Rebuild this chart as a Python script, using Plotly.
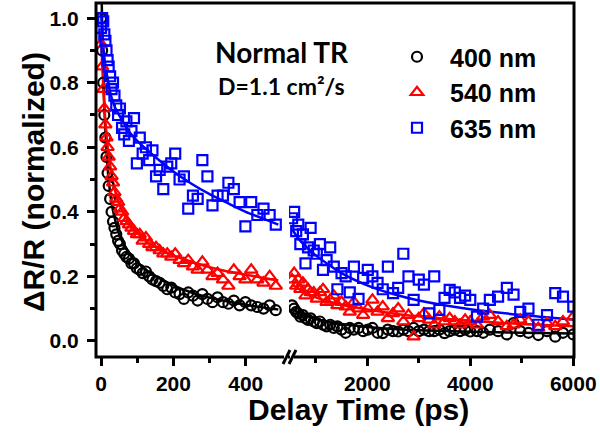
import plotly.graph_objects as go

# ---------------- data ----------------
t_left = [0, 3, 6, 9, 12, 15, 18, 21, 25, 29, 33, 37, 42, 47, 52, 58, 64, 70, 77, 84,
          91, 99, 107, 115, 124, 133, 142, 152, 162, 172, 183, 194, 205, 217, 229, 241,
          254, 267, 280, 294, 308, 322, 337, 352, 367, 383, 399, 415, 432, 449, 466, 483]

nm400_left = [1.00, 0.90, 0.80, 0.70, 0.63, 0.57, 0.52, 0.48, 0.44, 0.40, 0.37, 0.35, 0.33,
              0.31, 0.30, 0.28, 0.27, 0.26, 0.255, 0.24, 0.24, 0.225, 0.22, 0.21, 0.215,
              0.20, 0.19, 0.185, 0.18, 0.17, 0.16, 0.165, 0.15, 0.145, 0.13, 0.15, 0.14,
              0.125, 0.145, 0.13, 0.12, 0.135, 0.12, 0.115, 0.125, 0.11, 0.12, 0.11, 0.105,
              0.10, 0.11, 0.095]

nm540_left = [0.92, 0.85, 0.78, 0.72, 0.67, 0.63, 0.60, 0.57, 0.54, 0.51, 0.49, 0.46, 0.44,
              0.43, 0.41, 0.40, 0.38, 0.37, 0.36, 0.35, 0.34, 0.33, 0.33, 0.31, 0.32, 0.30,
              0.29, 0.29, 0.28, 0.27, 0.27, 0.26, 0.27, 0.25, 0.24, 0.25, 0.23, 0.22, 0.245,
              0.22, 0.20, 0.21, 0.19, 0.17, 0.22, 0.20, 0.19, 0.22, 0.19, 0.18, 0.20, 0.17]

nm635_left = [0.97, 1.00, 0.99, 0.95, 0.93, 0.90, 0.87, 0.85, 0.82, 0.78, 0.80, 0.76, 0.73,
              0.70, 0.72, 0.66, 0.64, 0.68, 0.62, 0.65, 0.69, 0.55, 0.63, 0.58, 0.60, 0.56,
              0.59, 0.51, 0.53, 0.47, 0.54, 0.55, 0.58, 0.50, 0.51, 0.41, 0.45, 0.44, 0.56,
              0.51, 0.42, 0.45, 0.45, 0.49, 0.47, 0.43, 0.355, 0.43, 0.39, 0.41, 0.39, 0.36]

t_right = [540, 580, 620, 660, 700, 750, 800, 850, 900, 960, 1020, 1080, 1140, 1210, 1280,
           1350, 1420, 1500, 1580, 1660, 1740, 1830, 1920, 2010, 2100, 2200, 2300, 2400,
           2500, 2600, 2700, 2800, 2900, 3000, 3100, 3200, 3300, 3400, 3500, 3600, 3700,
           3800, 3900, 4000, 4130, 4250, 4380, 4540, 4710, 4840, 4970, 5130, 5320, 5490,
           5650, 5800, 6000]

nm400_right = [0.11, 0.10, 0.09, 0.085, 0.075, 0.08, 0.07, 0.065, 0.07, 0.06, 0.055, 0.06,
               0.05, 0.045, 0.05, 0.04, 0.045, 0.035, 0.025, 0.04, 0.035, 0.04, 0.03, 0.035,
               0.04, 0.025, 0.024, 0.035, 0.03, 0.029, 0.035, 0.03, 0.04, 0.03, 0.035, 0.03,
               0.03, 0.035, 0.024, 0.03, 0.035, 0.03, 0.035, 0.029, 0.03, 0.025, 0.035, 0.03,
               0.02, 0.055, 0.03, 0.025, 0.018, 0.03, 0.013, 0.025, 0.02]

nm540_right = [0.19, 0.21, 0.17, 0.19, 0.16, 0.18, 0.14, 0.16, 0.15, 0.15, 0.13, 0.15, 0.16,
               0.12, 0.127, 0.14, 0.11, 0.12, 0.106, 0.09, 0.12, 0.10, 0.08, 0.10, 0.127,
               0.09, 0.106, 0.07, 0.085, 0.10, 0.06, 0.08, 0.013, 0.07, 0.085, 0.065, 0.05,
               0.075, 0.06, 0.07, 0.06, 0.05, 0.065, 0.06, 0.05, 0.075, 0.08, 0.06, 0.045,
               0.05, 0.065, 0.06, 0.04, 0.055, 0.045, 0.06, 0.075]

nm635_right = [0.38, 0.40, 0.34, 0.36, 0.30, 0.33, 0.24, 0.29, 0.35, 0.28, 0.27, 0.30, 0.22,
               0.25, 0.29, 0.23, 0.16, 0.21, 0.20, 0.15, 0.23, 0.13, 0.195, 0.22, 0.20,
               0.18, 0.16, 0.23, 0.148, 0.164, 0.27, 0.20, 0.127, 0.19, 0.174, 0.085, 0.20,
               0.096, 0.133, 0.158, 0.15, 0.133, 0.14, 0.127, 0.075, 0.10, 0.127, 0.137,
               0.164, 0.143, 0.09, 0.10, 0.05, 0.08, 0.148, 0.137, 0.106]

# fitted curves
fit400_left_t = [1, 2, 4, 6, 8, 10, 13, 16, 20, 25, 30, 40, 50, 60, 80, 100, 130, 160, 200,
                 250, 300, 350, 400, 450, 490]
fit400_left_y = [1.10, 1.04, 0.93, 0.84, 0.76, 0.70, 0.63, 0.57, 0.51, 0.46, 0.42, 0.37, 0.33,
                 0.305, 0.27, 0.245, 0.215, 0.195, 0.172, 0.150, 0.134, 0.122, 0.112, 0.103,
                 0.097]
fit540_left_t = [0, 3, 6, 10, 15, 20, 25, 30, 40, 50, 60, 80, 100, 130, 160, 200, 250, 300,
                 350, 400, 450, 490]
fit540_left_y = [0.96, 0.86, 0.79, 0.71, 0.64, 0.585, 0.545, 0.51, 0.46, 0.425, 0.40, 0.36,
                 0.335, 0.305, 0.285, 0.265, 0.245, 0.228, 0.215, 0.205, 0.195, 0.187]
fit635_left_t = [0, 5, 10, 20, 30, 40, 60, 80, 100, 150, 200, 250, 300, 350, 400, 450, 490]
fit635_left_y = [1.02, 0.93, 0.87, 0.80, 0.75, 0.72, 0.68, 0.645, 0.62, 0.57, 0.525, 0.487,
                 0.455, 0.427, 0.40, 0.378, 0.36]

fit_right_t = [540, 700, 1000, 1500, 2000, 2500, 3000, 4000, 5000, 6000]
fit400_right_y = [0.100, 0.085, 0.068, 0.052, 0.043, 0.037, 0.033, 0.028, 0.025, 0.023]
fit540_right_y = [0.175, 0.158, 0.135, 0.112, 0.097, 0.085, 0.076, 0.062, 0.052, 0.045]
fit635_right_y = [0.345, 0.31, 0.265, 0.21, 0.172, 0.145, 0.125, 0.098, 0.080, 0.066]

series_names = ["400 nm", "540 nm", "635 nm"]
colors = ["#000000", "#ff0000", "#0000ff"]
symbols = ["circle-open", "triangle-up-open", "square-open"]
sizes = [10, 11, 10]

left_vals = [nm400_left, nm540_left, nm635_left]
right_vals = [nm400_right, nm540_right, nm635_right]
fits_left = [(fit400_left_t, fit400_left_y), (fit540_left_t, fit540_left_y),
             (fit635_left_t, fit635_left_y)]
fits_right = [fit400_right_y, fit540_right_y, fit635_right_y]

# ---------------- geometry helpers ----------------
W, H = 600, 438
L, R, T, B = 96, 26, 3, 81
PW, PH = W - L - R, H - T - B


def px(x):
    return (x - L) / PW


def py(y):
    return (H - B - y) / PH


FONT = "Liberation Sans, Arial, sans-serif"

fig = go.Figure()

for i in range(3):
    fig.add_trace(go.Scatter(
        x=fits_left[i][0], y=fits_left[i][1], mode="lines", xaxis="x", yaxis="y",
        line=dict(color=colors[i], width=2.5, shape="spline", smoothing=0.6),
        showlegend=False, hoverinfo="skip"))
    fig.add_trace(go.Scatter(
        x=fit_right_t, y=fits_right[i], mode="lines", xaxis="x2", yaxis="y",
        line=dict(color=colors[i], width=2.5, shape="spline", smoothing=0.6),
        showlegend=False, hoverinfo="skip"))

for i in range(3):
    mk = dict(symbol=symbols[i], size=sizes[i], color=colors[i],
              line=dict(color=colors[i], width=2.2))
    fig.add_trace(go.Scatter(x=t_left, y=left_vals[i], mode="markers", xaxis="x", yaxis="y",
                             marker=mk, name=series_names[i], legendgroup=series_names[i]))
    fig.add_trace(go.Scatter(x=t_right, y=right_vals[i], mode="markers", xaxis="x2",
                             yaxis="y", marker=mk, name=series_names[i],
                             legendgroup=series_names[i], showlegend=False))

tickfont = dict(family=FONT, size=21, color="black", weight="bold")
axis_common = dict(showgrid=False, zeroline=False, showline=False, ticks="outside",
                   ticklen=8, tickwidth=3, tickcolor="black", tickfont=tickfont)

fig.update_layout(
    width=W, height=H,
    margin=dict(l=L, r=R, t=T, b=B),
    paper_bgcolor="white", plot_bgcolor="white",
    xaxis=dict(domain=[0, px(287)], range=[-14, 514], anchor="y",
               tickmode="array", tickvals=[0, 200, 400],
               minor=dict(tickmode="array", tickvals=[100, 300], ticks="outside",
                          ticklen=5, tickwidth=3, tickcolor="black"),
               **axis_common),
    xaxis2=dict(domain=[px(289), 1], range=[480, 6014], anchor="y",
                tickmode="array", tickvals=[2000, 4000, 6000],
                minor=dict(tickmode="array", tickvals=[1000, 3000, 5000], ticks="outside",
                           ticklen=5, tickwidth=3, tickcolor="black"),
                **axis_common),
    yaxis=dict(domain=[0, 1], range=[-0.05, 1.047], anchor="x",
               tickmode="array", tickvals=[0, 0.2, 0.4, 0.6, 0.8, 1.0], tickformat=".1f",
               ticklabelstandoff=4,
               minor=dict(tickmode="array", tickvals=[0.1, 0.3, 0.5, 0.7, 0.9],
                          ticks="outside", ticklen=5, tickwidth=3, tickcolor="black"),
               **axis_common),
    legend=dict(x=px(384), y=py(34), xanchor="left", yanchor="top", itemwidth=56,
                bgcolor="rgba(0,0,0,0)", borderwidth=0, tracegroupgap=0,
                font=dict(family=FONT, size=25, color="black", weight="bold")),
    showlegend=True,
)

# frame and axis break marks
fig.add_shape(type="rect", xref="paper", yref="paper", x0=0, x1=1, y0=0, y1=1,
              line=dict(color="black", width=3), layer="above")
for xs in (283, 289):
    fig.add_shape(type="rect", xref="paper", yref="paper", x0=px(xs + 1), x1=px(xs + 5),
                  y0=py(359), y1=py(355), fillcolor="white", line=dict(width=0),
                  layer="above")
for xs in (283, 289):
    fig.add_shape(type="line", xref="paper", yref="paper",
                  x0=px(xs), y0=py(364), x1=px(xs + 7), y1=py(350),
                  line=dict(color="black", width=3), layer="above")

# texts
fig.add_annotation(text="Normal TR", xref="paper", yref="paper", x=px(282), y=py(52),
                   showarrow=False, xanchor="center", yanchor="middle",
                   font=dict(family="Lato, sans-serif", size=28, color="black", weight="bold"))
fig.add_annotation(text="D=1.1 cm²/s", xref="paper", yref="paper", x=px(281), y=py(86),
                   showarrow=False, xanchor="center", yanchor="middle",
                   font=dict(family="Lato, sans-serif", size=23, color="black", weight="bold"))
fig.add_annotation(text="ΔR/R (normalized)", xref="paper", yref="paper", x=px(33), y=py(182),
                   showarrow=False, xanchor="center", yanchor="middle", textangle=-90,
                   font=dict(family=FONT, size=30, color="black", weight="bold"))
fig.add_annotation(text="Delay Time (ps)", xref="paper", yref="paper", x=px(358), y=py(409),
                   showarrow=False, xanchor="center", yanchor="middle",
                   font=dict(family=FONT, size=30, color="black", weight="bold"))

fig.write_html("out.html")
